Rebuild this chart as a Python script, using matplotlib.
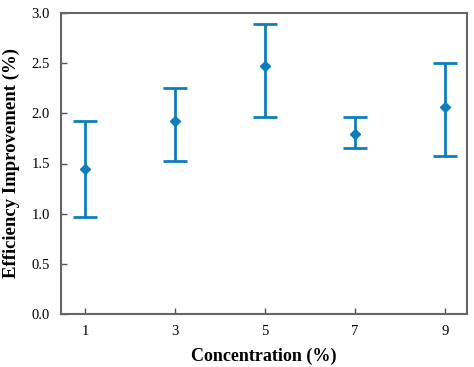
import matplotlib
matplotlib.use("Agg")
import matplotlib.pyplot as plt
import numpy as np

concentration = [1, 3, 5, 7, 9]
efficiency = [1.45, 1.92, 2.47, 1.79, 2.06]
upper = [1.92, 2.25, 2.89, 1.96, 2.50]
lower = [0.97, 1.525, 1.96, 1.65, 1.575]

plt.rcParams['font.family'] = ['Liberation Serif', 'DejaVu Serif']

fig = plt.figure(figsize=(4.74, 3.67), dpi=100)
ax = fig.add_axes([61/474, 53/367, 406/474, 301/367])

yerr = [np.array(efficiency) - np.array(lower), np.array(upper) - np.array(efficiency)]
color = '#0e7dbd'
ax.errorbar(concentration, efficiency, yerr=yerr, fmt='D', color=color, ecolor=color,
            markersize=5, elinewidth=2, capsize=8.5, capthick=2)

ax.set_xlim(0.46, 9.49)
ax.set_ylim(0, 3.0)
ax.set_xticks(concentration)
ax.set_xticklabels([str(c) for c in concentration])
yt = np.arange(0, 3.01, 0.5)
ax.set_yticks(yt)
ax.set_yticklabels([f"{v:.1f}" for v in yt])
ax.tick_params(direction='in', length=4, width=1, colors='#555555', labelcolor='black', labelsize=10.5)
ax.tick_params(axis='x', pad=8)
ax.tick_params(axis='y', pad=8)
for s in ax.spines.values():
    s.set_color('#666666')
    s.set_linewidth(1.5)

ax.set_xlabel('Concentration (%)', fontsize=13, fontweight='bold', labelpad=7)
ax.set_ylabel('Efficiency Improvement (%)', fontsize=13.5, fontweight='bold', labelpad=8)

fig.savefig('out.png', dpi=100)
